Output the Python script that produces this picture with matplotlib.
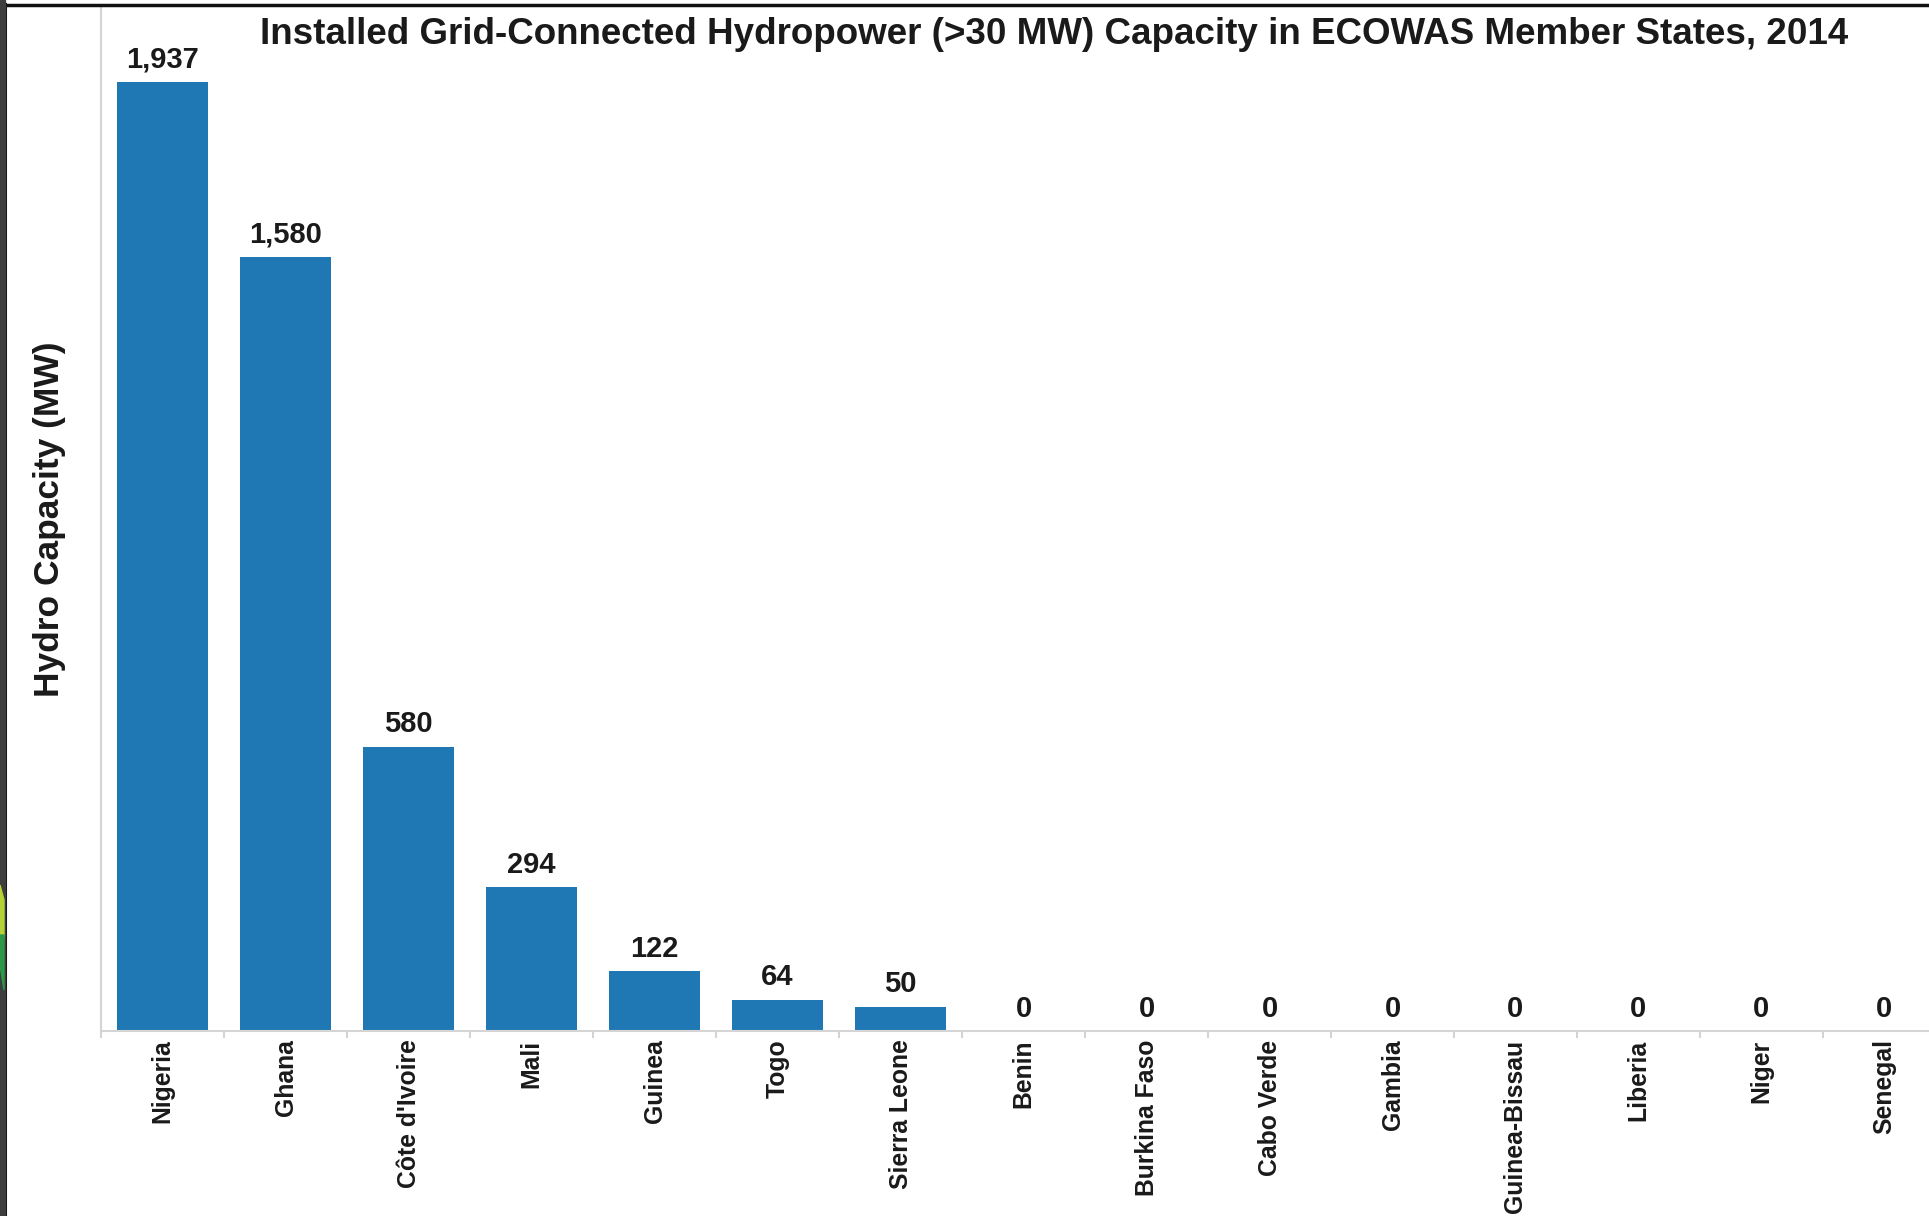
import matplotlib
matplotlib.use("Agg")
import matplotlib.pyplot as plt
from matplotlib.patches import Rectangle, Polygon

plt.rcParams["font.family"] = ["Liberation Sans", "DejaVu Sans"]
plt.rcParams["font.weight"] = "bold"

# dados
paises = ["Nigeria", "Ghana", "Côte d'Ivoire", "Mali", "Guinea", "Togo",
          "Sierra Leone", "Benin", "Burkina Faso", "Cabo Verde", "Gambia",
          "Guinea-Bissau", "Liberia", "Niger", "Senegal"]
capacidade = [1937, 1580, 580, 294, 122, 64, 50, 0, 0, 0, 0, 0, 0, 0, 0]

azul = "#1f77b4"
cinza = "#d4d4d4"

fig = plt.figure(figsize=(19.29, 12.16), dpi=100)
ax = fig.add_axes([0.0524, 0.1521, 0.9564, 0.8420])

x = list(range(len(paises)))
ax.bar(x, capacidade, width=0.74, color=azul, zorder=2)

for i, v in enumerate(capacidade):
    ax.annotate(f"{v:,}", (i, v), xytext=(0, 6), textcoords="offset points",
                ha="center", va="bottom", fontsize=21, fontweight="bold",
                color="#1a1a1a")

ax.set_xlim(-0.5, len(paises) - 0.5)
ax.set_ylim(0, 2089)

ax.set_xticks(x)
ax.set_xticklabels(paises, rotation=90, fontsize=17.8, fontweight="bold",
                   color="#1a1a1a")
ax.tick_params(axis="x", which="major", length=0, pad=6)
ax.set_xticks([i - 0.5 for i in range(len(paises) + 1)], minor=True)
ax.tick_params(axis="x", which="minor", length=5, width=1.5, color=cinza)
ax.set_yticks([])

for s in ["top", "right"]:
    ax.spines[s].set_visible(False)
for s in ["left", "bottom"]:
    ax.spines[s].set_color(cinza)
    ax.spines[s].set_linewidth(1.5)

ax.set_ylabel("Hydro Capacity (MW)", fontsize=25.5, fontweight="bold",
              color="#1a1a1a", labelpad=25)

fig.text(0.5465, 0.972, "Installed Grid-Connected Hydropower (>30 MW) Capacity in ECOWAS Member States, 2014",
         ha="center", va="center", fontsize=26.5, fontweight="bold", color="#1a1a1a")

# moldura da imagem (borda escura a esquerda e em cima)
W, H = 1929, 1216
fig.patches.append(Rectangle((0, 0), 5 / W, 1, transform=fig.transFigure,
                             color="#3d3d3d", zorder=5))
fig.patches.append(Polygon([(0, 1 - 885 / H), (4 / W, 1 - 900 / H), (4 / W, 1 - 935 / H),
                            (0, 1 - 965 / H)], closed=True, transform=fig.transFigure,
                           color="#b5d334", zorder=6))
fig.patches.append(Polygon([(0, 1 - 935 / H), (4 / W, 1 - 935 / H), (4 / W, 1 - 990 / H),
                            (0, 1 - 965 / H)], closed=True, transform=fig.transFigure,
                           color="#2a9a48", zorder=6))
fig.add_artist(plt.Line2D([5 / W, 5 / W], [0, 1 - 4 / H], transform=fig.transFigure,
                          color="#111111", linewidth=2.2))
fig.add_artist(plt.Line2D([5 / W, 1], [1 - 5 / H, 1 - 5 / H], transform=fig.transFigure,
                          color="#111111", linewidth=2.5))

fig.savefig("out.png", dpi=100)
